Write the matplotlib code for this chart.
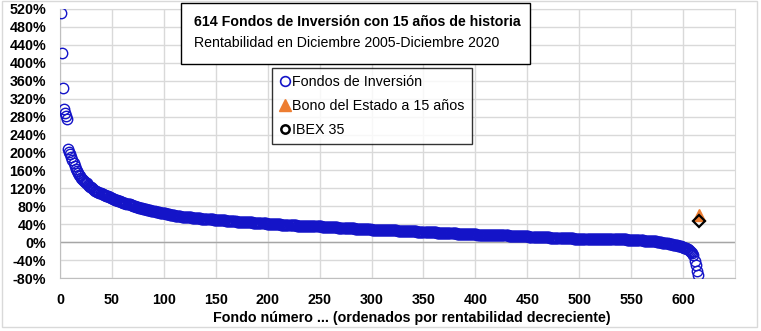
import numpy as np
import matplotlib.pyplot as plt
from matplotlib.lines import Line2D
from matplotlib.patches import Rectangle

plt.rcParams['font.family'] = ['Liberation Sans', 'DejaVu Sans']

# rentabilidad 2005-2020 (%) de los 614 fondos, ordenada de mayor a menor
fondos = [
    510, 421, 343, 298, 289, 281, 275, 207, 201, 196, 190, 184, 177, 169, 163, 158, 154, 150, 147, 144,
    141, 139, 137, 135, 133, 131, 128, 126, 124, 122, 120, 118, 116, 115, 113, 112, 111, 110, 109, 108,
    107, 106, 105, 104, 103, 102, 101, 100, 99, 98, 97, 96, 95, 94, 93, 92, 91, 91, 90, 89,
    88, 87, 87, 86, 85, 84, 84, 83, 82, 81, 81, 80, 79, 79, 78, 77, 77, 76, 76, 75,
    74, 74, 73, 72, 72, 71, 71, 70, 70, 69, 69, 68, 68, 67, 67, 66, 66, 65, 65, 64,
    64, 63, 63, 62, 62, 61, 61, 61, 60, 60, 59, 59, 59, 58, 58, 58, 57, 57, 57, 56,
    56, 56, 55, 55, 55, 55, 54, 54, 54, 54, 53, 53, 53, 53, 53, 52, 52, 52, 52, 52,
    52, 51, 51, 51, 51, 51, 51, 50, 50, 50, 50, 50, 50, 49, 49, 49, 49, 49, 49, 48,
    48, 48, 48, 48, 47, 47, 47, 47, 47, 46, 46, 46, 46, 46, 45, 45, 45, 45, 45, 44,
    44, 44, 44, 44, 44, 43, 43, 43, 43, 43, 43, 42, 42, 42, 42, 42, 42, 42, 41, 41,
    41, 41, 41, 41, 41, 40, 40, 40, 40, 40, 40, 40, 39, 39, 39, 39, 39, 39, 39, 38,
    38, 38, 38, 38, 38, 38, 38, 37, 37, 37, 37, 37, 37, 37, 37, 36, 36, 36, 36, 36,
    36, 36, 36, 35, 35, 35, 35, 35, 35, 35, 35, 34, 34, 34, 34, 34, 34, 34, 34, 33,
    33, 33, 33, 33, 33, 33, 33, 32, 32, 32, 32, 32, 32, 32, 32, 31, 31, 31, 31, 31,
    31, 31, 31, 30, 30, 30, 30, 30, 30, 30, 30, 29, 29, 29, 29, 29, 29, 29, 29, 28,
    28, 28, 28, 28, 28, 28, 27, 27, 27, 27, 27, 27, 27, 27, 27, 26, 26, 26, 26, 26,
    26, 26, 26, 26, 25, 25, 25, 25, 25, 25, 25, 25, 25, 24, 24, 24, 24, 24, 24, 24,
    24, 24, 24, 23, 23, 23, 23, 23, 23, 23, 23, 23, 22, 22, 22, 22, 22, 22, 22, 22,
    22, 22, 21, 21, 21, 21, 21, 21, 21, 21, 21, 21, 20, 20, 20, 20, 20, 20, 20, 20,
    20, 19, 19, 19, 19, 19, 19, 19, 19, 19, 19, 18, 18, 18, 18, 18, 18, 18, 18, 18,
    18, 17, 17, 17, 17, 17, 17, 17, 17, 17, 17, 16, 16, 16, 16, 16, 16, 16, 16, 16,
    16, 15, 15, 15, 15, 15, 15, 15, 15, 15, 15, 14, 14, 14, 14, 14, 14, 14, 14, 14,
    14, 14, 13, 13, 13, 13, 13, 13, 13, 13, 13, 12, 12, 12, 12, 12, 12, 12, 12, 12,
    12, 11, 11, 11, 11, 11, 11, 11, 11, 11, 11, 10, 10, 10, 10, 10, 10, 10, 10, 10,
    10, 10, 9, 9, 9, 9, 9, 9, 9, 9, 9, 9, 9, 9, 8, 8, 8, 8, 8, 8,
    8, 8, 8, 8, 8, 8, 7, 7, 7, 7, 7, 7, 7, 7, 7, 7, 7, 7, 7, 7,
    7, 7, 7, 7, 7, 7, 7, 7, 7, 7, 7, 7, 7, 7, 7, 7, 7, 6, 6, 6,
    6, 6, 6, 6, 6, 5, 5, 5, 5, 5, 5, 5, 4, 4, 4, 4, 4, 4, 4, 4,
    4, 3, 3, 3, 3, 3, 3, 3, 3, 3, 2, 2, 2, 2, 1, 1, 1, 0, 0, -1,
    -1, -2, -2, -3, -3, -4, -4, -5, -5, -6, -6, -7, -7, -7, -8, -8, -9, -9, -10, -11,
    -12, -13, -14, -15, -16, -17, -19, -21, -24, -28, -41, -52, -64, -74,
]
bono_x, bono_y = 615, 61     # Bono del Estado a 15 años
ibex_x, ibex_y = 615, 48     # IBEX 35

yticks = list(range(-80, 521, 40))
xticks = list(range(0, 601, 50))

azul = '#1414C8'
naranja = '#ED7D31'

fig = plt.figure(figsize=(7.61, 3.31), dpi=100)
ax = fig.add_axes([60 / 761, 1 - 278 / 331, 675 / 761, 269 / 331])

x = np.arange(1, len(fondos) + 1)
ax.plot(x, fondos, 'o', mfc='none', mec=azul, ms=7.5, mew=1.0, zorder=3)
ax.plot(bono_x, bono_y, '^', color=naranja, ms=9, zorder=4)
ax.plot(ibex_x, ibex_y, 'D', mfc='none', mec='black', ms=6, mew=1.6, zorder=5)

ax.set_xlim(0, 650)
ax.set_ylim(-80, 520)
ax.set_xticks(xticks)
ax.set_yticks(yticks)
ax.set_yticklabels([f'{v}%' for v in yticks])
ax.tick_params(length=0, labelsize=10.3)
ax.tick_params(axis='y', pad=10)
ax.tick_params(axis='x', pad=11)
for lab in ax.get_xticklabels() + ax.get_yticklabels():
    lab.set_fontweight('bold')
ax.grid(True, color='#D9D9D9', lw=1)
ax.axhline(0, color='#A6A6A6', lw=1, zorder=1)
ax.set_axisbelow(True)
for s in ['top', 'right']:
    ax.spines[s].set_color('#D9D9D9')
for s in ['left', 'bottom']:
    ax.spines[s].set_color('#BFBFBF')

fig.text(412 / 761, 1 - 318 / 331, 'Fondo número ... (ordenados por rentabilidad decreciente)',
         fontsize=10.3, fontweight='bold', ha='center', va='center')

# recuadro del título
fig.patches.append(Rectangle((181 / 761, 1 - 64 / 331), 349 / 761, 61 / 331, transform=fig.transFigure,
                             facecolor='white', edgecolor='black', lw=1, zorder=10))
fig.text(194 / 761, 1 - 22 / 331, '614 Fondos de Inversión con 15 años de historia', fontsize=10.2,
         fontweight='bold', va='center', zorder=11)
fig.text(194 / 761, 1 - 43 / 331, 'Rentabilidad en Diciembre 2005-Diciembre 2020', fontsize=10.2,
         va='center', zorder=11)

handles = [
    Line2D([], [], marker='o', ls='none', mfc='none', mec=azul, ms=7, mew=1.2),
    Line2D([], [], marker='^', ls='none', color=naranja, ms=9),
    Line2D([], [], marker='o', ls='none', mfc='none', mec='black', ms=6, mew=1.8),
]
leg = fig.legend(handles, ['Fondos de Inversión', 'Bono del Estado a 15 años', 'IBEX 35'],
                 loc='upper left', bbox_to_anchor=(272 / 761, 1 - 68 / 331), fontsize=10.3,
                 frameon=True, fancybox=False, edgecolor='black', handlelength=0.8,
                 handletextpad=0.1, labelspacing=0.7, borderpad=0.5, borderaxespad=0)
leg.get_frame().set_linewidth(1)

fig.patches.append(Rectangle((2 / 761, 1 - 327 / 331), 755 / 761, 326 / 331, transform=fig.transFigure,
                             facecolor='none', edgecolor='#D9D9D9', lw=1))

fig.savefig('out.png', dpi=100)
